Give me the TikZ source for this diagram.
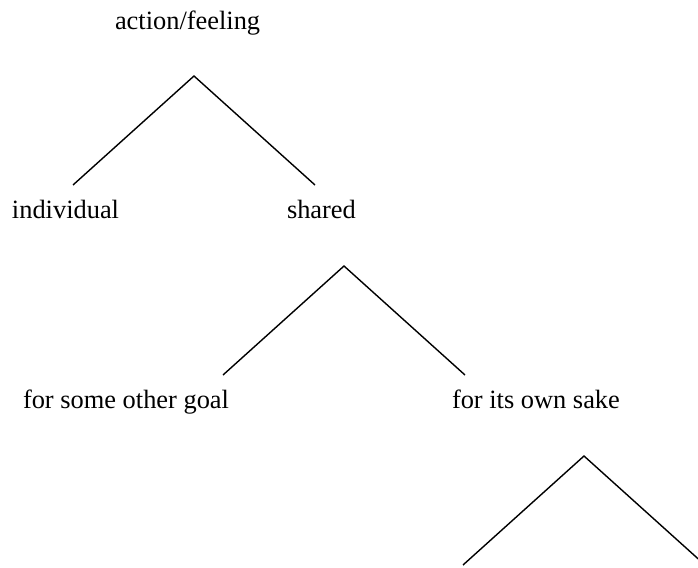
\documentclass[tikz,border=0pt]{standalone}
\usepackage{fontspec}
\setmainfont{Liberation Serif}
\begin{document}
\begin{tikzpicture}[x=1pt,y=-1pt,
  lbl/.style={anchor=base west,inner sep=0pt,outer sep=0pt,font=\fontsize{26.4}{30}\selectfont},
  branch/.style={draw=black,line width=1.4pt}]
\useasboundingbox (0,0) rectangle (698,567);
\clip (0,0) rectangle (698,567);
% labels
\node[lbl] (af) at (115,30) {action/feeling};
\node[lbl] (ind) at (12,218) {individual};
\node[lbl] (sh) at (287,218) {shared};
\node[lbl] (osg) at (23,408) {for some other goal};
\node[lbl] (own) at (452,408) {for its own sake};
% branch points
\coordinate (t1) at (194,76);
\coordinate (l1) at (73,185);
\coordinate (r1) at (315,185);
\coordinate (t2) at (344,266);
\coordinate (l2) at (223,375);
\coordinate (r2) at (465,375);
\coordinate (t3) at (584,456);
\coordinate (l3) at (463,565);
\coordinate (r3) at (705,565);
\draw[branch] (l1) -- (t1) -- (r1);
\draw[branch] (l2) -- (t2) -- (r2);
\draw[branch] (l3) -- (t3) -- (r3);
\end{tikzpicture}
\end{document}
